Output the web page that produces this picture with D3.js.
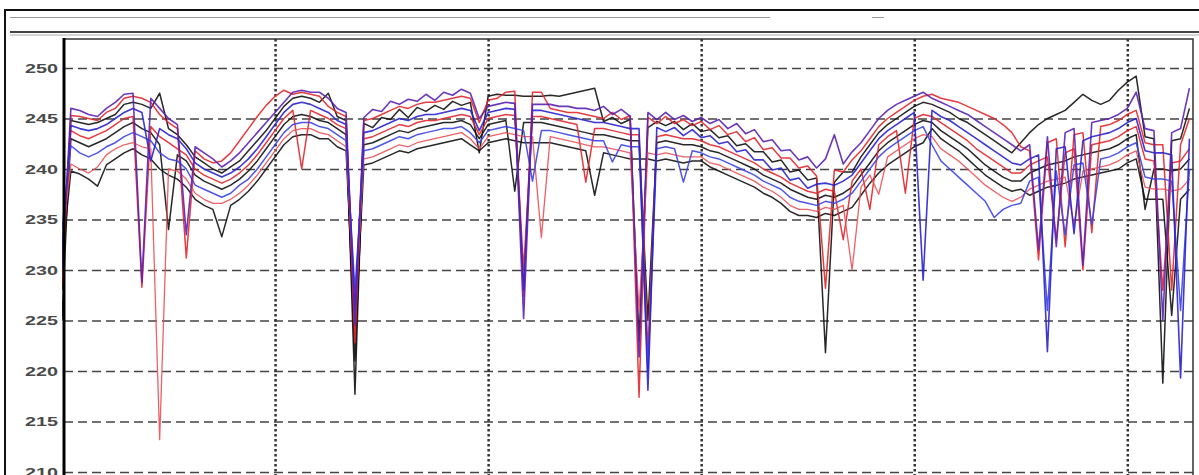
<!DOCTYPE html>
<html>
<head>
<meta charset="utf-8">
<script src="https://cdn.jsdelivr.net/npm/d3@7/dist/d3.min.js"></script>
<style>
  body { margin: 0; background: #fff; }
  svg { display: block; }
</style>
</head>
<body>
<div id="chart"></div>
<script>
// hourly samples, index = hour since start (5.3 days shown)
const black1 = [225,244.8,244.6,244.4,244.6,245.0,245.4,246.4,246.6,246.4,
  246.0,247.5,244.0,243.4,242.4,241.2,240.6,240.0,239.6,240.2,
  240.8,241.8,242.8,243.8,245.0,246.2,247.0,247.2,247.0,246.6,
  247.5,245.2,244.8,217.7,244.5,244.1,245.1,244.9,245.9,245.1,
  246.1,245.7,246.3,245.9,246.7,246.3,246.6,241.6,247.2,247.4,
  247.3,247.3,247.2,247.2,247.2,247.3,247.2,247.4,247.6,247.8,
  248.0,244.7,245.1,244.5,244.9,223.0,244.1,244.7,244.3,244.7,
  243.9,244.5,243.7,243.9,243.1,243.3,242.3,242.5,241.7,241.7,
  240.7,240.9,239.7,239.9,238.9,239.1,221.8,238.7,239.7,239.7,
  241.2,242.4,243.6,244.4,245.0,245.6,246.2,246.6,246.4,246.0,
  245.6,245.0,244.6,244.0,243.4,242.8,242.2,241.6,242.6,243.6,
  244.4,245.0,245.4,245.8,246.6,247.4,246.8,246.4,246.8,247.8,
  248.6,249.2,243.2,243.0,218.8,242.8,243.0,246.0];
const black2 = [228,243.0,242.6,242.2,242.6,243.0,243.6,244.2,244.6,244.0,
  243.6,242.4,234.0,241.4,240.8,239.4,238.8,238.4,238.0,238.4,
  239.0,239.8,240.8,242.0,243.2,244.4,245.2,245.4,245.2,244.8,
  244.6,244.0,243.4,221.0,242.4,242.6,243.0,243.4,243.8,243.6,
  244.0,244.2,244.4,244.6,244.6,244.8,244.4,243.0,244.4,244.6,
  244.8,237.8,244.6,244.6,244.6,244.4,244.2,244.0,243.8,243.6,
  243.4,243.4,243.2,243.0,242.8,242.8,225.0,242.6,242.8,242.6,
  242.4,242.4,242.2,241.8,241.6,241.2,240.8,240.4,240.0,239.4,
  239.0,238.6,238.0,237.6,237.2,237.0,237.4,237.2,237.6,238.2,
  239.4,240.6,241.8,242.6,243.2,243.8,244.4,244.8,244.6,243.8,
  243.2,242.6,242.0,241.2,240.4,239.8,239.2,238.8,238.8,239.6,
  240.0,240.4,240.6,240.8,241.2,241.4,241.6,241.8,242.0,242.4,
  243.0,243.4,236.0,240.0,240.0,239.8,240.0,241.0];
const black3 = [231,239.8,239.5,239.0,238.3,240.4,241.0,241.6,242.0,241.4,
  241.0,240.0,239.4,239.0,238.2,237.0,236.4,236.0,233.3,236.4,
  237.0,237.8,238.8,240.0,241.2,242.4,243.2,243.4,243.4,243.0,
  243.0,242.2,241.8,223.0,240.4,240.6,241.0,241.4,241.8,241.6,
  242.0,242.2,242.4,242.6,242.8,243.0,242.4,241.8,242.6,242.8,
  243.0,242.8,242.6,242.6,242.6,242.6,242.4,242.2,242.0,241.8,
  237.4,241.6,241.4,241.2,241.0,241.0,241.0,240.8,241.0,240.8,
  240.6,240.8,240.8,240.2,239.8,239.4,239.0,238.6,238.2,237.6,
  237.2,236.6,235.8,235.4,235.4,235.2,235.6,235.4,235.8,236.2,
  237.4,238.6,239.6,240.4,241.0,241.6,242.2,242.6,244.0,243.0,
  242.4,241.8,241.0,240.2,239.4,238.8,238.2,237.8,238.0,237.4,
  237.8,238.2,238.4,238.6,239.0,239.2,239.4,239.6,239.8,240.0,
  240.6,241.0,237.0,237.0,237.0,225.5,237.0,238.0];
const red1 = [228.5,245.3,245.2,245.0,244.8,245.6,246.0,247.0,247.2,247.0,
  246.6,245.4,244.6,244.0,231.2,241.8,241.0,240.6,240.8,241.6,
  242.8,244.0,245.2,246.3,247.2,247.8,247.4,247.6,247.4,247.2,
  246.2,245.6,245.2,222.8,244.8,245.0,245.4,245.8,246.2,246.0,
  246.4,246.6,246.6,246.8,247.0,247.2,247.0,244.6,246.8,247.0,
  247.6,247.7,227.4,247.6,247.6,246.0,245.8,245.6,245.6,245.4,
  245.2,245.0,245.6,244.9,245.3,217.4,245.1,244.5,245.2,244.5,
  244.9,244.3,244.7,243.9,244.3,243.4,243.7,242.7,243.1,241.9,
  242.1,241.1,241.1,240.1,240.3,239.3,228.2,239.9,239.7,240.9,
  241.8,243.0,244.2,245.0,245.6,246.2,246.8,247.2,247.4,247.0,
  246.8,246.6,246.2,245.8,245.4,245.0,244.4,243.6,242.2,241.8,
  231.0,242.6,243.0,232.3,243.4,243.6,233.7,244.2,244.4,244.8,
  245.4,245.8,242.6,242.4,242.4,228.0,242.4,245.0];
const red2 = [230,243.8,243.3,243.0,243.4,243.8,244.4,245.0,245.2,228.3,
  244.2,243.2,242.6,242.0,241.4,240.0,239.4,239.0,238.6,239.0,
  239.6,240.4,241.4,242.6,243.8,245.0,245.8,240.0,245.8,245.4,
  245.0,244.4,244.0,224.0,243.0,243.2,243.6,244.0,244.4,244.2,
  244.6,244.8,244.8,245.0,245.2,245.4,245.2,243.4,245.0,245.2,
  245.4,245.3,230.0,245.2,245.2,245.0,244.8,244.6,244.4,238.7,
  244.0,244.0,243.8,243.6,243.4,243.4,222.0,243.2,243.4,243.2,
  243.0,243.0,242.8,242.4,242.2,241.8,241.4,241.0,240.6,240.0,
  239.6,239.2,238.6,238.2,237.8,237.6,238.0,237.8,233.0,238.8,
  240.0,236.0,242.4,243.2,243.8,237.6,245.0,245.4,245.2,244.6,
  244.0,243.4,242.8,242.0,241.4,240.8,240.2,239.6,239.6,240.4,
  240.8,241.2,233.0,241.6,242.0,230.0,242.4,242.6,242.8,243.2,
  243.8,244.2,241.0,240.8,228.0,240.6,240.8,242.0];
const red3 = [233,240.5,240.0,239.6,240.2,241.4,242.0,242.4,242.6,242.2,
  242.0,213.2,240.0,239.8,239.0,237.6,237.0,236.6,236.6,237.0,
  237.6,238.4,239.4,240.6,241.8,243.0,243.8,244.0,244.0,243.6,
  243.4,242.8,242.2,226.0,241.0,241.2,241.6,242.0,242.4,242.2,
  242.6,242.8,243.0,243.2,243.4,243.6,243.0,242.0,243.2,243.4,
  243.6,243.4,243.2,243.2,233.2,243.2,243.0,242.8,242.6,242.4,
  242.2,242.2,242.0,241.8,241.6,226.0,241.6,241.4,241.6,241.4,
  241.2,241.2,241.2,240.6,240.4,240.0,239.6,239.2,238.8,238.2,
  237.8,237.2,236.4,236.0,236.0,235.8,236.2,236.0,236.4,230.0,
  238.2,239.4,237.5,241.2,241.8,242.4,243.0,243.4,243.2,242.0,
  241.4,240.8,240.0,239.2,238.4,237.8,237.2,236.8,237.2,238.0,
  238.4,238.8,239.0,239.2,234.5,239.8,240.0,240.2,240.4,240.8,
  241.4,241.8,238.2,238.0,238.0,237.8,238.0,239.0];
const blue1 = [230,246.0,245.8,245.4,245.2,246.0,246.6,247.4,247.5,228.8,
  247.0,246.0,245.0,244.4,233.5,242.2,241.6,241.0,240.2,240.8,
  241.6,242.6,243.6,244.6,245.6,246.6,247.6,247.8,247.6,247.6,
  247.0,246.0,245.6,224.5,245.1,245.9,245.7,246.7,246.4,246.9,
  246.7,247.4,246.8,247.6,247.3,247.9,247.5,245.0,246.2,246.4,
  246.6,246.5,225.2,246.4,246.4,246.4,246.2,246.2,246.0,246.0,
  245.8,246.2,245.4,245.9,245.2,221.4,245.6,244.9,245.6,244.9,
  245.3,244.7,245.1,244.5,244.9,244.0,244.5,243.5,243.9,242.7,
  242.9,241.8,241.9,240.9,241.2,240.1,241.0,243.4,240.5,241.7,
  242.6,243.8,245.0,245.8,246.4,246.8,247.2,247.6,247.0,246.6,
  246.2,245.8,245.4,244.8,244.2,243.6,243.0,242.4,241.8,242.4,
  232.0,243.2,232.3,243.6,244.0,230.5,244.6,244.8,245.0,245.4,
  246.0,247.6,244.0,243.8,225.0,243.6,244.0,248.0];
const blue2 = [232,244.3,244.0,243.8,244.0,244.4,245.0,245.6,246.0,245.6,
  240.8,244.0,243.4,243.0,242.0,240.6,240.0,239.6,239.2,239.6,
  240.2,241.0,242.0,243.2,244.4,245.6,246.4,246.6,246.4,246.0,
  245.6,244.8,244.4,226.0,243.6,243.8,244.2,244.6,245.0,244.8,
  245.2,245.4,245.4,245.6,245.8,246.0,245.8,243.8,245.6,245.8,
  246.0,245.9,228.0,245.8,245.8,245.6,245.4,245.2,245.0,244.8,
  244.6,244.6,244.4,244.2,244.0,244.0,218.1,244.1,243.7,244.1,
  243.3,243.9,243.1,243.3,242.5,242.7,241.7,241.9,240.9,240.9,
  239.9,240.1,238.9,239.1,238.1,238.5,238.6,238.4,238.8,239.4,
  240.6,241.8,243.0,243.8,244.4,245.0,245.6,229.0,245.8,245.2,
  244.8,244.2,243.6,243.0,242.4,241.8,241.2,240.6,240.4,241.0,
  241.4,221.9,242.0,242.2,233.6,242.8,243.2,243.4,243.6,244.0,
  244.6,245.0,241.8,241.6,241.6,241.4,219.3,243.0];
const blue3 = [234,242.3,241.6,241.2,241.6,242.2,242.6,243.2,243.6,243.2,
  242.8,241.6,241.0,240.8,240.0,238.4,238.0,237.6,237.2,237.6,
  238.4,239.0,240.0,241.2,242.4,243.6,244.4,244.6,244.6,244.2,
  244.0,243.4,242.8,228.0,241.8,242.0,242.4,242.8,243.2,243.0,
  243.4,243.6,243.8,244.0,244.0,244.2,243.6,242.6,243.8,244.0,
  244.2,244.0,243.8,238.8,243.8,243.8,243.6,243.4,243.2,243.0,
  242.8,242.8,240.7,242.4,242.2,242.2,220.0,242.0,242.2,242.0,
  238.7,241.8,241.6,241.2,241.0,240.6,240.2,239.8,239.4,238.8,
  238.4,238.0,237.2,236.8,236.6,236.4,236.8,236.6,237.0,237.6,
  238.8,240.0,241.2,242.0,242.6,243.2,243.8,244.2,242.4,240.8,
  240.0,239.2,238.4,237.6,236.8,235.2,236.0,236.4,236.6,238.8,
  239.2,226.0,239.8,233.5,240.4,240.6,234.5,241.0,241.2,241.6,
  242.2,242.6,239.2,239.0,239.0,238.8,226.0,240.0];

const yTicks = [210, 215, 220, 225, 230, 235, 240, 245, 250];
const dayTicks = [24, 48, 72, 96, 120];

const W = 1199, H = 475;
const plot = {left: 64, top: 39, right: 1193, bottom: 475};

const svg = d3.select("#chart").append("svg")
  .attr("width", W)
  .attr("height", H);

svg.append("rect").attr("width", W).attr("height", H).attr("fill", "#fff");

// frame of the window around the plot
svg.append("path")
  .attr("d", "M5," + H + "V10H" + W)
  .attr("fill", "none").attr("stroke", "#111").attr("stroke-width", 2);
svg.append("line").attr("x1", 10).attr("x2", 770).attr("y1", 17.5).attr("y2", 17.5)
  .attr("stroke", "#999").attr("stroke-width", 1);
svg.append("line").attr("x1", 872).attr("x2", 884).attr("y1", 17.5).attr("y2", 17.5)
  .attr("stroke", "#999").attr("stroke-width", 1);
svg.append("line").attr("x1", 10).attr("x2", W).attr("y1", 32).attr("y2", 32)
  .attr("stroke", "#444").attr("stroke-width", 2);
svg.append("line").attr("x1", 10).attr("x2", W).attr("y1", 35).attr("y2", 35)
  .attr("stroke", "#aaa").attr("stroke-width", 1);

const x = d3.scaleLinear().domain([0, 127.4]).range([62, plot.right]);
const y = d3.scaleLinear().domain([210, 250]).range([472, 68]);

// grid
svg.append("g")
  .attr("transform", "translate(" + plot.left + ",0)")
  .call(d3.axisLeft(y).tickValues(yTicks).tickSize(-(plot.right - plot.left)).tickFormat(""))
  .call(g => g.select(".domain").remove())
  .selectAll("line")
  .attr("stroke", "#444")
  .attr("stroke-width", 1.4)
  .attr("stroke-dasharray", "9,5");

svg.append("g")
  .attr("transform", "translate(0," + plot.top + ")")
  .call(d3.axisTop(x).tickValues(dayTicks).tickSize(-(plot.bottom - plot.top)).tickFormat(""))
  .call(g => g.select(".domain").remove())
  .selectAll("line")
  .attr("stroke", "#333")
  .attr("stroke-width", 2.5)
  .attr("stroke-dasharray", "2.5,2.5");

svg.append("clipPath").attr("id", "clip")
  .append("rect")
  .attr("x", 62).attr("y", plot.top)
  .attr("width", plot.right - 62).attr("height", plot.bottom - plot.top);

const series = [
  {values: black1, color: "#111111", width: 1.5},
  {values: black2, color: "#111111", width: 1.5},
  {values: black3, color: "#111111", width: 1.5},
  {values: red1, color: "#e3262b", width: 1.5},
  {values: red2, color: "#e3262b", width: 1.5},
  {values: red3, color: "#ec5055", width: 1.3},
  {values: blue3, color: "#3b44e6", width: 1.5},
  {values: blue2, color: "#2a22cf", width: 1.6},
  {values: blue1, color: "#5b22b4", width: 1.6}
];

const line = d3.line()
  .x((d, i) => x(i))
  .y(d => y(d));

svg.append("g")
  .attr("clip-path", "url(#clip)")
  .selectAll("path")
  .data(series)
  .join("path")
  .attr("d", d => line(d.values))
  .attr("fill", "none")
  .attr("stroke", d => d.color)
  .attr("stroke-width", d => d.width)
  .attr("stroke-opacity", 0.9)
  .attr("stroke-linejoin", "round");

// plot box
svg.append("path")
  .attr("d", "M" + plot.left + "," + plot.top + "H" + plot.right + "V" + plot.bottom)
  .attr("fill", "none").attr("stroke", "#333").attr("stroke-width", 1.5);

// y axis
const yAxis = svg.append("g")
  .attr("transform", "translate(" + plot.left + ",0)")
  .call(d3.axisLeft(y).tickValues(yTicks).tickSize(0).tickPadding(6));
yAxis.select(".domain").remove();
yAxis.selectAll("text")
  .attr("font-family", "Liberation Sans, Arial, sans-serif")
  .attr("font-size", 13)
  .attr("font-weight", "bold")
  .attr("fill", "#4a4a4a")
  .attr("textLength", 33)
  .attr("lengthAdjust", "spacingAndGlyphs");
svg.append("line")
  .attr("x1", plot.left).attr("x2", plot.left)
  .attr("y1", plot.top - 1).attr("y2", plot.bottom)
  .attr("stroke", "#000").attr("stroke-width", 3);
</script>
</body>
</html>
